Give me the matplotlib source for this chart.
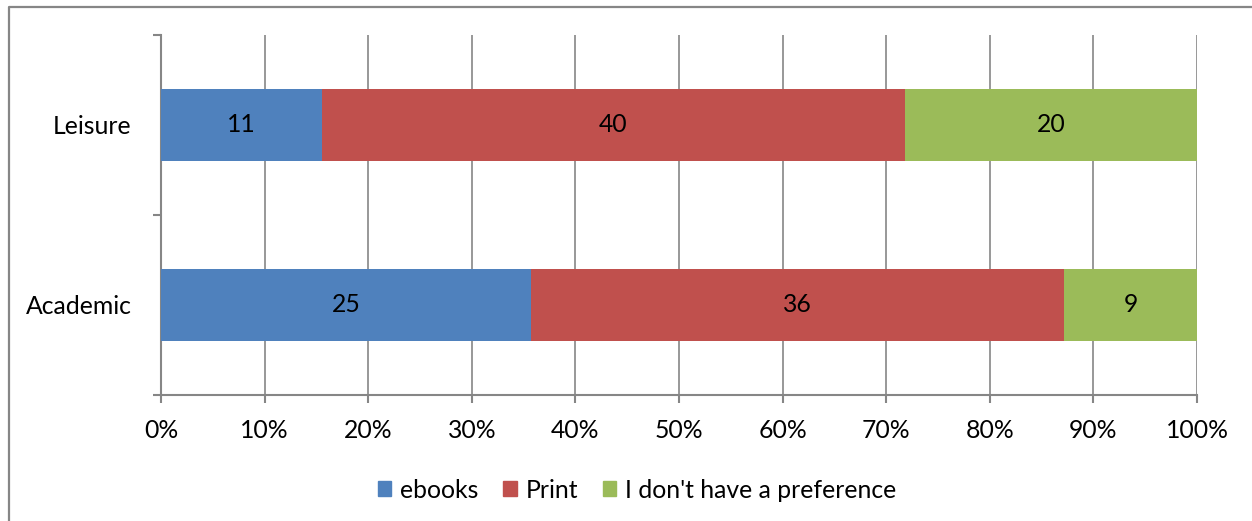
import matplotlib
matplotlib.use("Agg")
import matplotlib.pyplot as plt
from matplotlib.patches import Rectangle
from matplotlib.lines import Line2D
from matplotlib.ticker import FixedLocator, PercentFormatter
import numpy as np

categories = ["Academic", "Leisure"]
series_names = ["ebooks", "Print", "I don't have a preference"]
ebooks = [25, 11]
print_books = [36, 40]
no_preference = [9, 20]
series_values = [ebooks, print_books, no_preference]
colors = ["#4F81BD", "#C0504D", "#9BBB59"]
x_ticks = [0, 10, 20, 30, 40, 50, 60, 70, 80, 90, 100]

plt.rcParams["font.family"] = ["Lato", "DejaVu Sans"]
FS = 17.8
GRID = "#868686"

W, H = 1252, 521
fig = plt.figure(figsize=(W / 100, H / 100), dpi=100)
ax = fig.add_axes([161 / W, 1 - 395 / H, (1197 - 161) / W, (395 - 35) / H])

totals = np.sum(np.array(series_values, dtype=float), axis=0)
y = np.arange(len(categories))
left = np.zeros(len(categories))
for name, vals, col in zip(series_names, series_values, colors):
    vals = np.array(vals, dtype=float)
    share = vals / totals * 100
    bars = ax.barh(y, share, left=left, height=0.4, color=col, label=name, zorder=3)
    for b, v in zip(bars, vals):
        ax.text(b.get_x() + b.get_width() / 2, b.get_y() + b.get_height() / 2,
                f"{int(v)}", ha="center", va="center", fontsize=FS, color="black", zorder=4)
    left += share

ax.set_xlim(0, 100)
ax.set_ylim(-0.5, len(categories) - 0.5)
ax.xaxis.set_major_locator(FixedLocator(x_ticks))
ax.xaxis.set_major_formatter(PercentFormatter(decimals=0))
ax.set_yticks(y)
ax.set_yticklabels(categories)
ax.yaxis.set_minor_locator(FixedLocator(np.arange(-0.5, len(categories), 1.0)))
ax.tick_params(axis="y", which="major", length=0, pad=21, labelsize=FS)
ax.tick_params(axis="y", which="minor", length=5.5, width=1.5, color=GRID, direction="out")
ax.tick_params(axis="x", which="major", length=5.5, width=1.5, color=GRID, direction="out",
               pad=12, labelsize=FS)
ax.grid(axis="x", color=GRID, linewidth=1.2, zorder=0)
for s in ["top", "right"]:
    ax.spines[s].set_visible(False)
for s in ["left", "bottom"]:
    ax.spines[s].set_color(GRID)
    ax.spines[s].set_linewidth(1.5)

handles = [Rectangle((0, 0), 1, 1, color=c) for c in colors]
fig.legend(handles, series_names, loc="center", bbox_to_anchor=(637 / W, 1 - 490 / H),
           ncol=3, frameon=False, fontsize=FS, handlelength=0.55, handleheight=0.55,
           handletextpad=0.35, columnspacing=1.0)

# outer chart frame (left and top edges)
fig.add_artist(Line2D([8.5 / W, 8.5 / W, 1.0], [0.0, 1 - 6.5 / H, 1 - 6.5 / H],
                      transform=fig.transFigure, color=GRID, linewidth=1.6))

fig.savefig("out.png", dpi=100, facecolor="white")
